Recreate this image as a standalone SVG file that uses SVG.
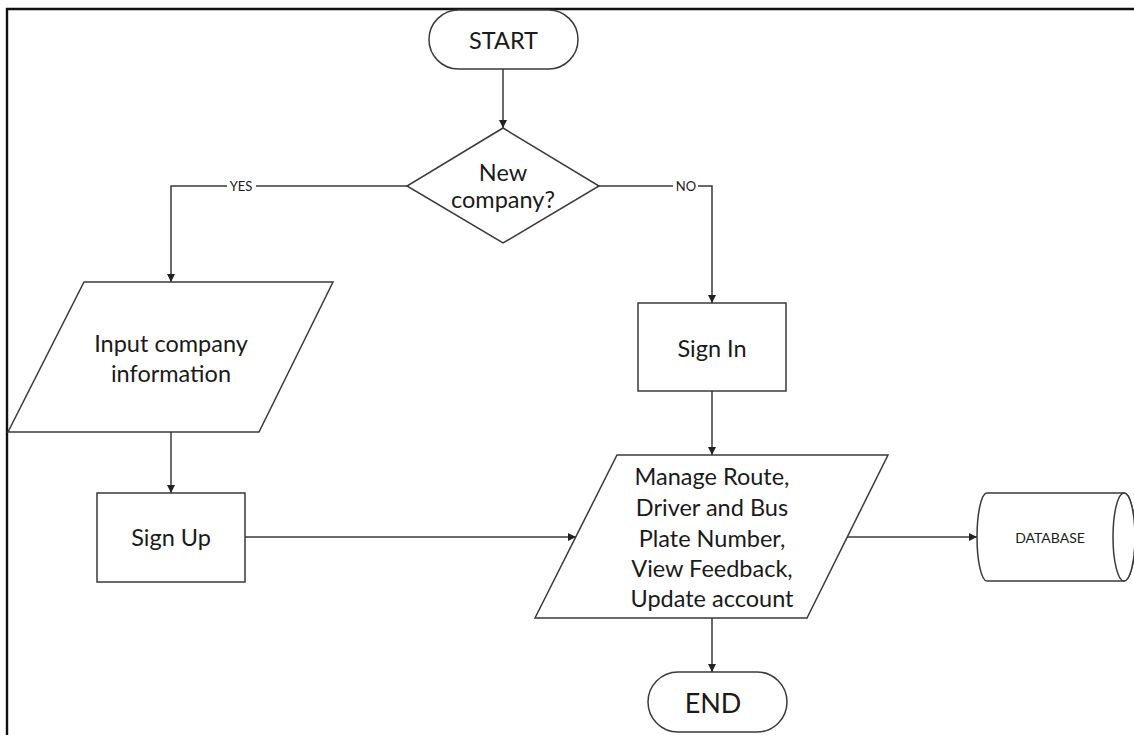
<svg xmlns="http://www.w3.org/2000/svg" width="1134" height="735" viewBox="0 0 1134 735">
  <defs>
    <marker id="arrow" viewBox="0 0 10 10" refX="10" refY="5" markerWidth="8" markerHeight="8" markerUnits="userSpaceOnUse" orient="auto">
      <path d="M0,0 L10,5 L0,10 z" fill="#222"/>
    </marker>
    <style>
      .shape { fill: #fff; stroke: #3a3a3a; stroke-width: 1.5; }
      .edge { fill: none; stroke: #3a3a3a; stroke-width: 1.5; marker-end: url(#arrow); }
      .label { font-family: Lato, "Open Sans", sans-serif; fill: #1a1a1a; text-anchor: middle; dominant-baseline: central; }
      .big { font-size: 23.5px; }
      .small { font-size: 13px; }
    </style>
  </defs>

  <rect width="1134" height="735" fill="#fff"/>
  <!-- frame -->
  <polyline points="7,735 7,9 1134,9" fill="none" stroke="#111" stroke-width="2.4"/>

  <!-- connectors -->
  <g id="connectors">
    <line class="edge" x1="503" y1="69" x2="503" y2="128"/>
    <polyline class="edge" points="407,186 171,186 171,282"/>
    <rect x="227" y="179" width="29" height="14" fill="#fff"/>
    <text class="label small" x="241" y="186">YES</text>
    <polyline class="edge" points="599,186 712,186 712,303"/>
    <rect x="673" y="179" width="25" height="14" fill="#fff"/>
    <text class="label small" x="686" y="186">NO</text>
    <line class="edge" x1="171" y1="432" x2="171" y2="493"/>
    <line class="edge" x1="712" y1="391" x2="712" y2="455"/>
    <line class="edge" x1="245" y1="537" x2="576" y2="537"/>
    <line class="edge" x1="712" y1="618" x2="712" y2="672"/>
    <line class="edge" x1="847" y1="537" x2="977" y2="537"/>
  </g>

  <g id="start">
    <rect class="shape" x="429" y="10" width="149" height="59" rx="29.5" ry="29.5"/>
    <text class="label big" x="503.5" y="40">START</text>
  </g>

  <g id="decision">
    <polygon class="shape" points="503,128 599,186 503,243 407,186"/>
    <text class="label big" x="503" y="172">New</text>
    <text class="label big" x="503" y="199">company?</text>
  </g>

  <g id="input-company">
    <polygon class="shape" points="84,282 333,282 259,432 8,432"/>
    <text class="label big" x="171" y="343">Input company</text>
    <text class="label big" x="171" y="373">information</text>
  </g>

  <g id="sign-up">
    <rect class="shape" x="97" y="493" width="148" height="89"/>
    <text class="label big" x="171" y="537">Sign Up</text>
  </g>

  <g id="sign-in">
    <rect class="shape" x="638" y="303" width="148" height="88"/>
    <text class="label big" x="712" y="348">Sign In</text>
  </g>

  <g id="manage">
    <polygon class="shape" points="617,455 888,455 807,618 535,618"/>
    <text class="label big" x="712" y="476">Manage Route,</text>
    <text class="label big" x="712" y="507">Driver and Bus</text>
    <text class="label big" x="712" y="538">Plate Number,</text>
    <text class="label big" x="712" y="568">View Feedback,</text>
    <text class="label big" x="712" y="598">Update account</text>
  </g>

  <g id="end">
    <rect class="shape" x="648" y="672" width="139" height="60" rx="30" ry="30"/>
    <text class="label" style="font-size:27px" x="713" y="702">END</text>
  </g>

  <g id="database">
    <path class="shape" d="M987,493 L1124,493 A11,44 0 0 1 1124,581 L987,581 A10,44 0 0 1 987,493 Z"/>
    <ellipse class="shape" cx="1124" cy="537" rx="11" ry="44"/>
    <text class="label" style="font-size:14px" x="1050" y="537">DATABASE</text>
  </g>
</svg>
